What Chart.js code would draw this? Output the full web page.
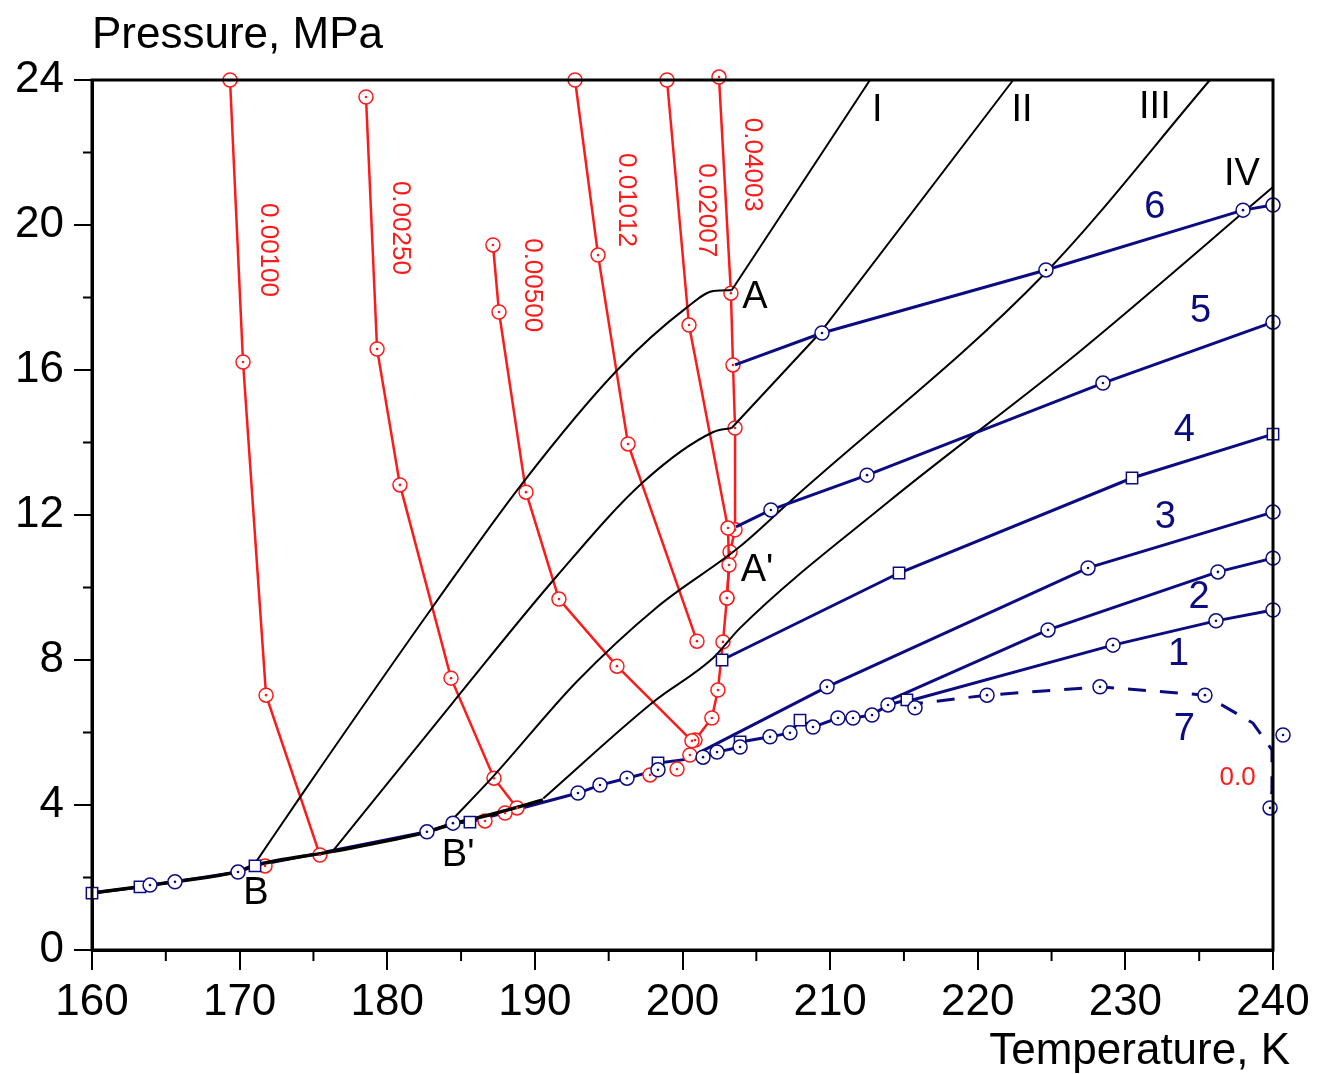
<!DOCTYPE html>
<html>
<head>
<meta charset="utf-8">
<script src="https://cdn.jsdelivr.net/npm/chart.js@4.4.1/dist/chart.umd.min.js"></script>
<style>
html, body { margin: 0; padding: 0; background: #fff; }
#wrap { width: 1317px; height: 1074px; position: relative; }
</style>
</head>
<body>
<div id="wrap"><canvas id="phaseChart"></canvas></div>
<script>
// ---- data (T in K, P in MPa) ----
var xTicks = [160, 170, 180, 190, 200, 210, 220, 230, 240];
var yTicks = [0, 4, 8, 12, 16, 20, 24];

// saturation curve (thick black)
var satT = [160, 163.9, 165.6, 169.9, 171.0, 176.3, 182.7, 184.4, 187.4, 190.55];
var satP = [1.57, 1.78, 1.88, 2.17, 2.33, 2.72, 3.26, 3.47, 3.78, 4.14];

// blue measured points along the saturation line
var satCircT = [163.93, 165.62, 169.89, 182.69, 184.45, 192.92, 194.41, 196.24, 198.34, 201.39, 202.34, 203.9, 205.93, 207.28, 208.84, 210.53, 211.55, 212.84, 213.92, 215.75];
var satCircP = [1.79, 1.88, 2.15, 3.26, 3.5, 4.33, 4.55, 4.74, 4.97, 5.32, 5.46, 5.6, 5.88, 5.99, 6.15, 6.4, 6.4, 6.48, 6.76, 6.68];
var satSqT = [160, 163.25, 171.04, 185.6, 198.34, 203.9, 207.96, 215.2];
var satSqP = [1.57, 1.74, 2.32, 3.53, 5.16, 5.74, 6.34, 6.9];

// black curves I - IV (I and II split at the kink: curved part, then straight part)
var curveIT = [171.16, 174.2, 183.12, 189.22, 195.54, 200.28, 202.09, 203.33];
var curveIP = [2.46, 4.28, 9.49, 12.91, 15.98, 17.72, 18.18, 18.2];
var curveIhiT = [203.33, 212.7];
var curveIhiP = [18.2, 24.0];
var curveIIT = [176.35, 184.47, 191.48, 197.34, 202.09, 203.33];
var curveIIP = [2.75, 6.84, 10.31, 12.91, 14.29, 14.4];
var curveIIhiT = [203.33, 209.31, 222.4];
var curveIIhiP = [14.4, 17.02, 24.0];
var curveIIIT = [184.25, 187.18, 192.83, 198.25, 203.89, 207.38, 224.56, 235.73];
var curveIIIP = [3.53, 4.79, 7.4, 9.45, 11.13, 12.41, 18.67, 24.0];
var curveIVT = [190.57, 198.02, 202.09, 203.89, 213.91, 226.72, 240.04];
var curveIVP = [4.18, 6.84, 8.06, 8.88, 12.35, 16.45, 21.06];

// red isochores
var isoNames = ['0.00100', '0.00250', '0.00500', '0.01012', '0.02007', '0.04003'];
var iso1T = [169.35, 170.23, 171.79, 175.44];
var iso1P = [24.0, 16.22, 7.03, 2.62];
var iso2T = [178.56, 179.31, 180.86, 184.32, 187.23, 188.79];
var iso2P = [23.53, 16.58, 12.83, 7.5, 4.74, 3.92];
var iso3T = [187.16, 187.57, 189.4, 191.63, 195.56, 200.64];
var iso3P = [19.45, 17.6, 12.63, 9.68, 7.83, 5.77];
var iso4T = [192.72, 194.28, 196.31, 200.98];
var iso4P = [24.0, 19.17, 13.96, 8.52];
var iso5T = [198.95, 200.44, 203.08, 203.15, 203.01];
var iso5P = [24.0, 17.24, 11.64, 10.62, 9.71];
var iso6T = [202.47, 203.28, 203.42, 203.56, 203.56, 203.22, 203.01, 202.74, 202.4, 201.99, 200.85];
var iso6P = [24.08, 18.12, 16.14, 14.4, 11.59, 10.98, 9.71, 8.5, 7.17, 6.4, 5.79];
var redSatT = [171.72, 186.62, 187.98, 197.8, 199.63, 200.5];
var redSatP = [2.32, 3.56, 3.78, 4.83, 4.99, 5.38];

// blue curves 1 - 7
var c1T = [215.07, 229.16, 236.14, 240];
var c1P = [6.84, 8.41, 9.08, 9.38];
var c2T = [213.72, 224.76, 236.27, 240];
var c2P = [6.84, 8.83, 10.43, 10.81];
var c3T = [201.19, 209.79, 227.47, 240];
var c3P = [5.46, 7.26, 10.54, 12.08];
var c4T = [202.68, 214.67, 230.45, 240];
var c4P = [8.0, 10.4, 13.02, 14.23];
var c5T = [203.62, 205.99, 212.5, 228.48, 240];
var c5P = [11.67, 12.14, 13.1, 15.64, 17.32];
var c6T = [203.56, 209.45, 224.62, 237.97, 240];
var c6P = [16.14, 17.02, 18.76, 20.41, 20.55];
var c7T = [215.07, 220.63, 228.28, 235.39, 238.64, 239.93, 239.93, 239.8];
var c7P = [6.76, 7.03, 7.26, 7.03, 6.26, 5.52, 4.41, 3.92];
var loneT = [240.68];
var loneP = [5.93];

var NAVY = '#0b0b82';
var RED = '#ff1a1a';
var FONT = "'Liberation Sans', Arial, sans-serif";

function pts(xs, ys) {
    return xs.map(function (x, i) { return { x: x, y: ys[i] }; });
}

function blackLine(t, p, w, straight) {
    return {
        data: pts(t, p), showLine: true, borderColor: '#000', borderWidth: w, pointRadius: 0,
        cubicInterpolationMode: straight ? 'default' : 'monotone', tension: 0, order: 3, clip: false
    };
}

function redLine(t, p) {
    return {
        data: pts(t, p), showLine: true, borderColor: RED, borderWidth: 2.5,
        pointRadius: 7, pointStyle: 'circle', pointBackgroundColor: '#fff', pointBorderColor: RED, pointBorderWidth: 1.5,
        order: 5, clip: false, dot: true
    };
}

// blue curve; markers only on the listed indexes
function blueLine(t, p, marks, style, dash) {
    return {
        data: pts(t, p), showLine: true, borderColor: NAVY, borderWidth: 3, borderDash: dash || [],
        pointRadius: function (ctx) { return marks.indexOf(ctx.dataIndex) >= 0 ? (style === 'rect' ? 8 : 7) : 0; },
        pointStyle: style, pointBackgroundColor: '#fff', pointBorderColor: NAVY, pointBorderWidth: 1.5,
        order: 2, clip: false, dot: style === 'circle'
    };
}

// blue saturation line goes through all the blue points in temperature order
var satLine = pts(satCircT, satCircP).concat(pts(satSqT, satSqP)).sort(function (a, b) { return a.x - b.x; });

var datasets = [
    redLine(iso1T, iso1P), redLine(iso2T, iso2P), redLine(iso3T, iso3P),
    redLine(iso4T, iso4P), redLine(iso5T, iso5P), redLine(iso6T, iso6P),
    { data: pts(redSatT, redSatP), showLine: false, pointRadius: 7, pointBackgroundColor: '#fff', pointBorderColor: RED, pointBorderWidth: 1.5, order: 4, clip: false, dot: true },
    blackLine(curveIT, curveIP, 2), blackLine(curveIhiT, curveIhiP, 2, true),
    blackLine(curveIIT, curveIIP, 2), blackLine(curveIIhiT, curveIIhiP, 2, true),
    blackLine(curveIIIT, curveIIIP, 2), blackLine(curveIVT, curveIVP, 2),
    { data: satLine, showLine: true, borderColor: NAVY, borderWidth: 3, pointRadius: 0, order: 6, clip: false },
    blackLine(satT, satP, 3.5),
    { data: pts(satCircT, satCircP), showLine: false, pointRadius: 7, pointStyle: 'circle', pointBackgroundColor: '#fff', pointBorderColor: NAVY, pointBorderWidth: 1.5, order: 1, clip: false, dot: true },
    { data: pts(satSqT, satSqP), showLine: false, pointRadius: 8, pointStyle: 'rect', pointBackgroundColor: '#fff', pointBorderColor: NAVY, pointBorderWidth: 1.5, order: 1, clip: false },
    blueLine(c1T, c1P, [1, 2, 3], 'circle'),
    blueLine(c2T, c2P, [1, 2, 3], 'circle'),
    blueLine(c3T, c3P, [1, 2, 3], 'circle'),
    blueLine(c4T, c4P, [0, 1, 2, 3], 'rect'),
    blueLine(c5T, c5P, [1, 2, 3, 4], 'circle'),
    blueLine(c6T, c6P, [1, 2, 3, 4], 'circle'),
    blueLine(c7T, c7P, [1, 2, 3, 7], 'circle', [18, 14]),
    // this one sits just right of the frame, Chart.js skips it, so the overlay draws it
    { data: pts(loneT, loneP), showLine: false, pointRadius: 7, pointBackgroundColor: '#fff', pointBorderColor: NAVY, pointBorderWidth: 1.5, order: 1, clip: false, dot: true, outside: true }
];

// text placed in data units
var notes = [
    { t: 'I', x: 213.2, y: 23.17, c: '#000' }, { t: 'II', x: 223.0, y: 23.17, c: '#000' },
    { t: 'III', x: 232.0, y: 23.23, c: '#000' }, { t: 'IV', x: 237.9, y: 21.38, c: '#000' },
    { t: 'A', x: 204.9, y: 17.99, c: '#000' }, { t: "A'", x: 205.05, y: 10.48, c: '#000' },
    { t: 'B', x: 171.1, y: 1.57, c: '#000' }, { t: "B'", x: 184.8, y: 2.62, c: '#000' },
    { t: '6', x: 232.0, y: 20.47, c: NAVY }, { t: '5', x: 235.1, y: 17.6, c: NAVY },
    { t: '4', x: 234.0, y: 14.34, c: NAVY }, { t: '3', x: 232.7, y: 11.94, c: NAVY },
    { t: '2', x: 235.0, y: 9.71, c: NAVY }, { t: '1', x: 233.6, y: 8.14, c: NAVY },
    { t: '7', x: 234.0, y: 6.07, c: NAVY }
];
var isoLabelPos = [[171.92, 19.31], [180.86, 19.92], [189.8, 18.34], [196.17, 20.69], [201.59, 20.41], [204.71, 21.66]];

var overlay = {
    id: 'overlay',
    afterDatasetsDraw: function (chart) {
        var c = chart.ctx;
        c.save();
        chart.data.datasets.forEach(function (ds, i) {
            var meta = chart.getDatasetMeta(i);
            if (ds.outside) {
                meta.data.forEach(function (el) {
                    c.fillStyle = '#fff';
                    c.strokeStyle = ds.pointBorderColor;
                    c.lineWidth = ds.pointBorderWidth;
                    c.beginPath(); c.arc(el.x, el.y, ds.pointRadius, 0, Math.PI * 2); c.fill(); c.stroke();
                    c.fillStyle = ds.pointBorderColor;
                    c.beginPath(); c.arc(el.x, el.y, 1.3, 0, Math.PI * 2); c.fill();
                });
                return;
            }
            if (!ds.dot) return;
            meta.data.forEach(function (el) {
                if (!el.options.radius) return;
                c.fillStyle = el.options.borderColor;
                c.beginPath(); c.arc(el.x, el.y, 1.3, 0, Math.PI * 2); c.fill();
            });
        });
        c.restore();
    },
    afterDraw: function (chart) {
        var c = chart.ctx, xs = chart.scales.x, ys = chart.scales.y, a = chart.chartArea;
        c.save();
        c.strokeStyle = '#000';
        c.lineWidth = 3;
        c.strokeRect(a.left, a.top, a.right - a.left, a.bottom - a.top);
        // minor ticks
        c.lineWidth = 2;
        for (var t = 165; t < 240; t += 10) {
            var px = xs.getPixelForValue(t);
            c.beginPath(); c.moveTo(px, a.bottom); c.lineTo(px, a.bottom + 11); c.stroke();
        }
        for (var p = 2; p < 24; p += 4) {
            var py = ys.getPixelForValue(p);
            c.beginPath(); c.moveTo(a.left, py); c.lineTo(a.left - 9, py); c.stroke();
        }
        // axis titles
        c.fillStyle = '#000';
        c.font = '44px ' + FONT;
        c.textBaseline = 'alphabetic';
        c.textAlign = 'left';
        c.fillText('Pressure, MPa', a.left, 48);
        c.textAlign = 'right';
        c.fillText('Temperature, K', a.right + 17, 1064);
        // curve labels
        c.font = '38px ' + FONT;
        c.textAlign = 'center';
        c.textBaseline = 'middle';
        notes.forEach(function (n) {
            c.fillStyle = n.c;
            c.fillText(n.t, xs.getPixelForValue(n.x), ys.getPixelForValue(n.y));
        });
        // isochore labels, rotated
        c.fillStyle = RED;
        c.font = '26px ' + FONT;
        isoNames.forEach(function (name, i) {
            c.save();
            c.translate(xs.getPixelForValue(isoLabelPos[i][0]), ys.getPixelForValue(isoLabelPos[i][1]));
            c.rotate(Math.PI / 2);
            c.fillText(name, 0, 0);
            c.restore();
        });
        c.fillText('0.0', xs.getPixelForValue(237.6), ys.getPixelForValue(4.74));
        c.restore();
    }
};

var ctx = document.getElementById('phaseChart').getContext('2d');
var myChart = new Chart(ctx, {
    type: 'scatter',
    data: { datasets: datasets },
    options: {
        responsive: true,
        maintainAspectRatio: false,
        animation: false,
        layout: { padding: { top: 80, right: 44, left: 0, bottom: 0 } },
        scales: {
            x: {
                type: 'linear',
                min: xTicks[0],
                max: xTicks[xTicks.length - 1],
                afterBuildTicks: function (s) { s.ticks = xTicks.map(function (v) { return { value: v }; }); },
                afterFit: function (s) { s.height = 124; },
                ticks: { color: '#000', font: { family: FONT, size: 44 }, padding: 6, maxRotation: 0 },
                grid: { drawOnChartArea: false, drawTicks: true, tickLength: 20, color: '#000', lineWidth: 2 },
                border: { display: true, color: '#000', width: 3 }
            },
            y: {
                type: 'linear',
                min: yTicks[0],
                max: yTicks[yTicks.length - 1],
                afterBuildTicks: function (s) { s.ticks = yTicks.map(function (v) { return { value: v }; }); },
                afterFit: function (s) { s.width = 92; },
                ticks: { color: '#000', font: { family: FONT, size: 44 }, padding: 10 },
                grid: { drawOnChartArea: false, drawTicks: true, tickLength: 18, color: '#000', lineWidth: 2 },
                border: { display: true, color: '#000', width: 3 }
            }
        },
        plugins: {
            legend: { display: false },
            tooltip: { enabled: false },
            title: { display: false }
        }
    },
    plugins: [overlay]
});
</script>
</body>
</html>
